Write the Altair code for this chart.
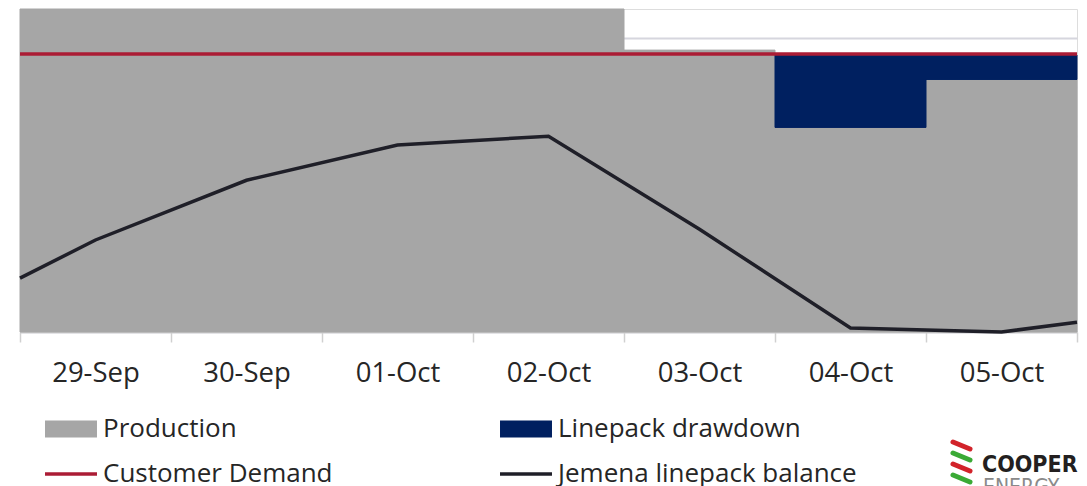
import altair as alt
import pandas as pd
import json

# ---------------- data ----------------
days = ["29-Sep", "30-Sep", "01-Oct", "02-Oct", "03-Oct", "04-Oct", "05-Oct"]
production = [330, 330, 330, 330, 288, 209, 258]
drawdown = [0, 0, 0, 0, 0, 74, 25]
demand = [284, 284, 284, 284, 284, 284, 284]
balance = [94, 155, 191, 200, 105, 4, 0]      # at mid-day
balance_start = 55                              # left edge of chart
balance_end = 10                                # right edge of chart

series_names = ["Production", "Linepack drawdown", "Customer Demand", "Jemena linepack balance"]
series_colors = ["#a6a6a6", "#002060", "#ab1c35", "#1f1f28"]

# ---------------- tables ----------------
n = len(days)
bars = pd.DataFrame({
    "day": days,
    "x0": list(range(n)),
    "x1": [i + 1 for i in range(n)],
    "production": production,
    "drawdown": drawdown,
    "top": [p + d for p, d in zip(production, drawdown)],
    "demand": demand,
})
line_df = pd.DataFrame({
    "x": [0] + [i + 0.5 for i in range(n)] + [n],
    "balance": [balance_start] + balance + [balance_end],
})
legend_df = pd.DataFrame({"series": series_names})

FONT = "Open Sans"
TXT = "#262626"

xscale = alt.Scale(domain=[0, n], nice=False, zero=False)
yscale = alt.Scale(domain=[0, 330], nice=False)

labels_js = json.dumps(days).replace('"', "'")
x_axis = alt.Axis(
    values=[i * 0.5 for i in range(2 * n + 1)],
    labelExpr=f"datum.value % 1 == 0 ? '' : {labels_js}[floor(datum.value)]",
    tickOpacity={"condition": {"test": "datum.value % 1 != 0", "value": 0}, "value": 1},
    tickSize=10, tickColor="#d0d0d0", tickWidth=1.5,
    domainColor="#d0d0d0", domainWidth=1.5,
    labelFont=FONT, labelFontSize=27.5, labelColor=TXT, labelPadding=17,
    labelOverlap=False, labelFlush=False, grid=False, title=None,
)
y_axis = alt.Axis(
    values=[0, 50, 100, 150, 200, 250, 300], grid=True, gridColor="#d6d6de",
    gridWidth=2, labels=False, ticks=False, domain=False, title=None,
)

base = alt.Chart(bars)

prod_bar = base.mark_bar(color="#a6a6a6", stroke="#a6a6a6", strokeWidth=1).encode(
    x=alt.X("x0:Q", scale=xscale, axis=x_axis),
    x2="x1:Q",
    y=alt.Y("production:Q", scale=yscale, axis=y_axis),
    y2=alt.datum(0),
)
draw_bar = base.transform_filter("datum.drawdown > 0").mark_bar(
    color="#002060", stroke="#002060", strokeWidth=1
).encode(
    x=alt.X("x0:Q", scale=xscale, axis=x_axis),
    x2="x1:Q",
    y=alt.Y("top:Q", scale=yscale, axis=y_axis),
    y2="production:Q",
)
demand_rule = base.mark_rule(color="#ab1c35", strokeWidth=3.5).encode(
    x=alt.X("x0:Q", scale=xscale, axis=x_axis),
    x2="x1:Q",
    y=alt.Y("demand:Q", scale=yscale, axis=y_axis),
)
bal_line = alt.Chart(line_df).mark_line(color="#1f1f28", strokeWidth=3.5).encode(
    x=alt.X("x:Q", scale=xscale, axis=x_axis),
    y=alt.Y("balance:Q", scale=yscale, axis=y_axis),
)

paths = [
    "M-1.444,-0.472H1.444V0.472H-1.444Z",
    "M-1.444,-0.472H1.444V0.472H-1.444Z",
    "M-1.444,-0.097H1.444V0.097H-1.444Z",
    "M-1.444,-0.097H1.444V0.097H-1.444Z",
]
leg = alt.Legend(
    orient="none", legendX=33, legendY=402, direction="horizontal", columns=2,
    title=None, symbolSize=1296, symbolStrokeWidth=0, symbolOpacity=1,
    labelOffset=14, columnPadding=167, rowPadding=14, padding=0,
    labelFont=FONT, labelFontSize=26, labelColor=TXT, labelLimit=0,
)
legend_layer = alt.Chart(legend_df).mark_point(filled=True, opacity=0).encode(
    color=alt.Color("series:N", scale=alt.Scale(domain=series_names, range=series_colors), legend=leg),
    shape=alt.Shape("series:N", scale=alt.Scale(domain=series_names, range=paths), legend=leg),
)

# logo
LOGO_FONT = "'DejaVu Sans Condensed', 'Liberation Sans', sans-serif"
one = pd.DataFrame({"t": [0]})
logo_main = alt.Chart(one).mark_text(
    text="COOPER", font=LOGO_FONT, fontWeight="bold", fontSize=23,
    color="#231f20", align="left", baseline="alphabetic",
).encode(x=alt.value(962), y=alt.value(463))
logo_sub = alt.Chart(one).mark_text(
    text="ENERGY", font=LOGO_FONT, fontSize=21,
    color="#8a8a8a", align="left", baseline="alphabetic",
).encode(x=alt.value(963), y=alt.value(485))
stripes = []
for k, col in enumerate(["#d2232a", "#3aaa35", "#d2232a", "#3aaa35"]):
    y0 = 433 + k * 11
    stripes.append(
        alt.Chart(one).mark_rule(color=col, strokeWidth=5, strokeCap="round").encode(
            x=alt.value(933), x2=alt.value(950), y=alt.value(y0), y2=alt.value(y0 + 7)
        )
    )

chart = alt.layer(
    prod_bar, draw_bar, demand_rule, bal_line, legend_layer, logo_main, logo_sub, *stripes
).properties(
    width=1057, height=323,
    autosize=alt.AutoSizeParams(type="none"),
    padding={"left": 12, "top": 1, "right": 2, "bottom": 154},
).configure_view(stroke=None).configure(background="white")

chart.save("out.html", embed_options={"renderer": "svg", "actions": False})
